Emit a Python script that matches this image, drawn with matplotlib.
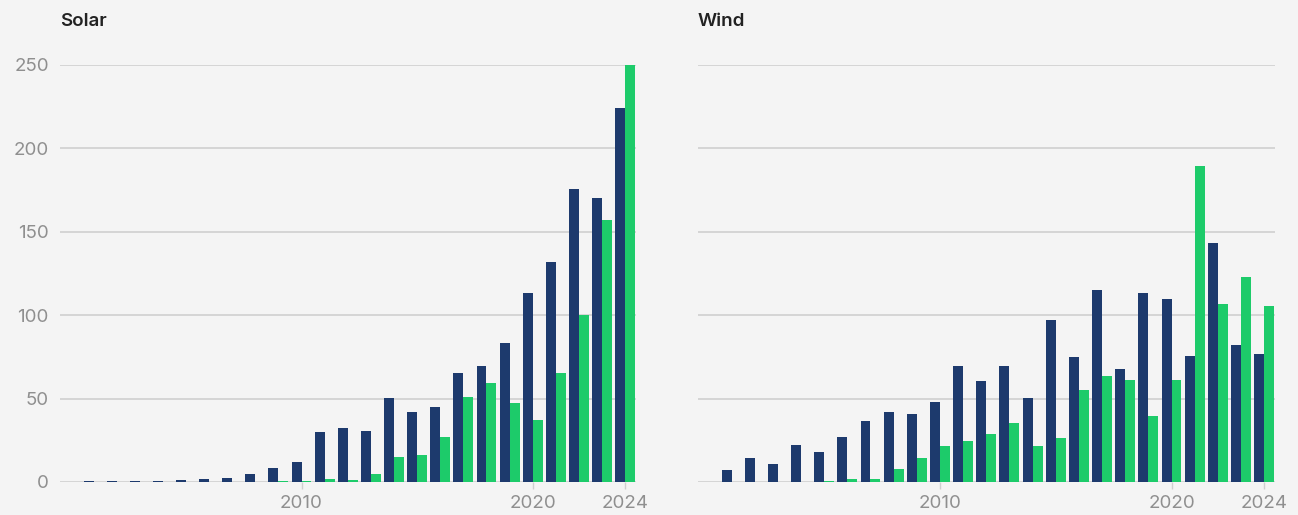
import numpy as np
import matplotlib.pyplot as plt

# capacity additions by year
years = list(range(2000, 2025))

solar_blue = [0.2, 0.4, 0.4, 0.5, 0.6, 1.2, 1.8, 2.2, 4.6, 8.2, 12,
              29.7, 32.3, 30.3, 50.6, 42, 45.2, 65.5, 69.7, 83.5,
              113.4, 132, 175.5, 170, 224.5]
solar_green = [0, 0.2, 0.2, 0.2, 0.2, 0.2, 0.2, 0.2, 0.2, 0.3, 0.5,
               2, 1.4, 4.8, 15, 16, 27, 51.2, 59.2, 47.2,
               37, 65.5, 100, 157, 250]

wind_blue = [0, 6.9, 14.1, 10.8, 22.1, 18.1, 27.1, 36.5, 42, 41, 47.8,
             69.4, 60.4, 69.6, 50.2, 97.4, 75.2, 115.3, 67.5, 113.4,
             109.6, 75.8, 143.2, 82, 76.8]
wind_green = [0, 0, 0, 0, 0, 0.5, 2, 2, 7.8, 14.5, 21.7,
              24.7, 28.9, 35.3, 21.5, 26.1, 55, 63.8, 61.2, 39.3,
              61.2, 189.2, 106.6, 123, 105.4]

panels = ["Solar", "Wind"]
yticks = [0, 50, 100, 150, 200, 250]
xticks = [2010, 2020, 2024]

navy = "#1d3a6d"
green = "#1dcb6a"
bg = "#f4f4f4"
grid_c = "#cfcfcf"
label_c = "#8f8f8f"

plt.rcParams['font.family'] = ['Inter', 'DejaVu Sans']

fig = plt.figure(figsize=(12.98, 5.15), dpi=100, facecolor=bg)
W, H = 1298, 515
ax1 = fig.add_axes([60 / W, 1 - 482 / H, 576 / W, 417 / H])
ax2 = fig.add_axes([698 / W, 1 - 482 / H, 577 / W, 417 / H])

x = np.array(years)
w = 0.43
data = [(ax1, solar_blue, solar_green), (ax2, wind_blue, wind_green)]

for i, (ax, blue, grn) in enumerate(data):
    ax.set_facecolor(bg)
    ax.bar(x - w / 2, blue, width=w, color=navy, zorder=3)
    ax.bar(x + w / 2, grn, width=w, color=green, zorder=3)
    ax.set_xlim(1999.55, 2024.47)
    ax.set_ylim(0, 250)
    ax.set_yticks(yticks)
    ax.yaxis.grid(True, color=grid_c, linewidth=1.2, zorder=0)
    ax.set_axisbelow(True)
    for s in ax.spines.values():
        s.set_visible(False)
    ax.set_xticks(xticks)
    ax.tick_params(axis='x', length=5, width=1, color=grid_c, pad=4,
                   labelsize=13.5, labelcolor=label_c)
    ax.tick_params(axis='y', length=0, pad=8, labelsize=13.5, labelcolor=label_c)
    if i == 1:
        ax.set_yticklabels([])
    pos = ax.get_position()
    fig.text(pos.x0, 1 - 21 / H, panels[i], fontsize=13.5, fontweight='semibold',
             color="#222222", ha='left', va='center')

fig.savefig("out.png", dpi=100, facecolor=bg)
